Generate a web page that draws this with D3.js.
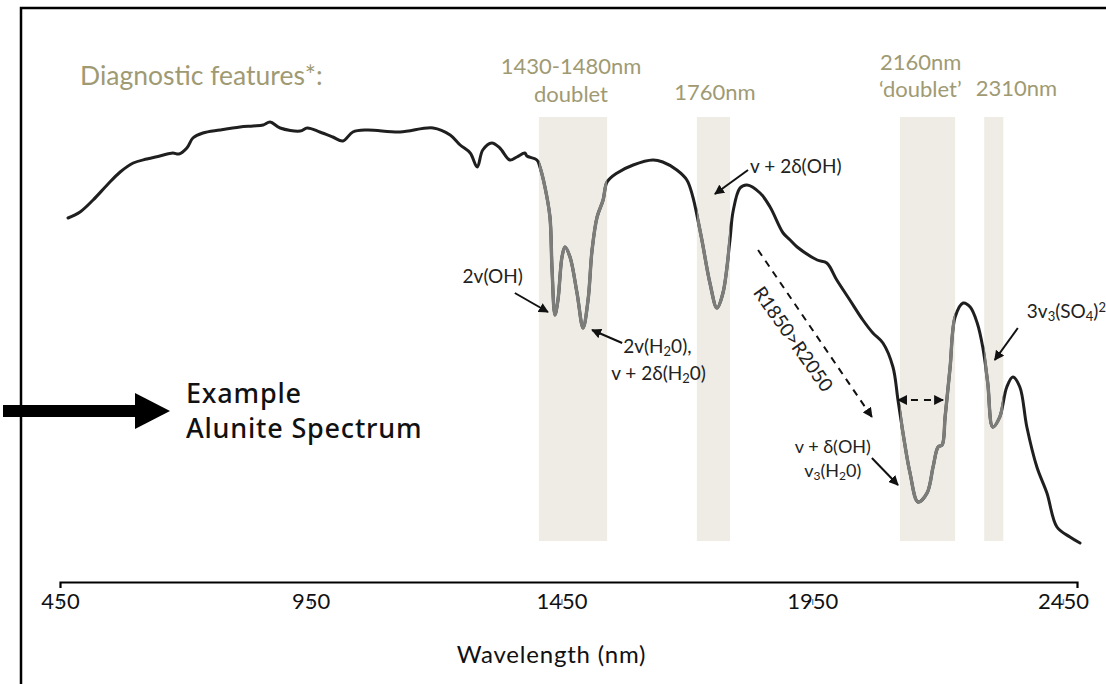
<!DOCTYPE html>
<html>
<head>
<meta charset="utf-8">
<script src="https://cdn.jsdelivr.net/npm/d3@7/dist/d3.min.js"></script>
<style>
  body { margin: 0; background: #fff; }
  svg { display: block; }
  text { font-family: Lato, "Open Sans", sans-serif; }
</style>
</head>
<body>
<div id="visContainer"></div>
<script>
'use strict';

// spectrum (wavelength in nm, relative reflectance)
var wavelength = [466, 490, 516, 544, 570, 596, 623, 649, 675, 687, 703, 715, 735, 769, 809, 835, 855, 869, 889, 929,
  943, 968, 994, 1014, 1034, 1062, 1128, 1194, 1228, 1248, 1268, 1282, 1293, 1311, 1327, 1347, 1361, 1377, 1381, 1401,
  1407, 1417, 1427, 1431, 1437, 1443, 1451, 1457, 1467, 1481, 1493, 1503, 1511, 1521, 1533, 1541, 1561, 1593, 1632, 1652,
  1680, 1700, 1712, 1722, 1730, 1746, 1760, 1772, 1786, 1792, 1806, 1820, 1846, 1866, 1892, 1906, 1920, 1960, 1979, 1999,
  2025, 2051, 2071, 2091, 2111, 2121, 2131, 2145, 2161, 2179, 2191, 2201, 2209, 2215, 2225, 2235, 2251, 2265, 2279, 2290,
  2300, 2310, 2324, 2338, 2350, 2364, 2378, 2398, 2418, 2438, 2464, 2484];
var reflectance = [0.744, 0.756, 0.780, 0.810, 0.836, 0.854, 0.862, 0.868, 0.874, 0.872, 0.884, 0.904, 0.914, 0.920, 0.926, 0.928, 0.930, 0.936, 0.924, 0.918,
  0.924, 0.916, 0.906, 0.898, 0.916, 0.920, 0.916, 0.924, 0.910, 0.890, 0.874, 0.846, 0.880, 0.894, 0.884, 0.860, 0.866, 0.874, 0.868, 0.860,
  0.846, 0.806, 0.746, 0.646, 0.550, 0.580, 0.666, 0.686, 0.666, 0.594, 0.524, 0.580, 0.680, 0.746, 0.780, 0.816, 0.834, 0.850, 0.860, 0.856,
  0.840, 0.820, 0.786, 0.740, 0.700, 0.614, 0.564, 0.594, 0.700, 0.756, 0.804, 0.810, 0.794, 0.766, 0.714, 0.700, 0.686, 0.660, 0.654, 0.620,
  0.580, 0.540, 0.514, 0.494, 0.446, 0.380, 0.314, 0.234, 0.176, 0.194, 0.246, 0.286, 0.290, 0.346, 0.446, 0.546, 0.574, 0.566, 0.534, 0.486,
  0.414, 0.326, 0.346, 0.406, 0.426, 0.406, 0.326, 0.246, 0.194, 0.126, 0.106, 0.094];

// shaded diagnostic bands (nm)
var bandStart = [1405, 1720, 2125, 2293];
var bandEnd = [1541, 1786, 2235, 2331];

var tickValues = [450, 950, 1450, 1950, 2450];

var width = 1106, height = 684;
var svg = d3.select('#visContainer').append('svg')
  .attr('width', width).attr('height', height);

var xScale = d3.scaleLinear().domain([450, 2478]).range([60, 1077]);
var yScale = d3.scaleLinear().domain([0, 1]).range([590, 90]);

var olive = '#a09a73';

// frame
svg.append('rect').attr('x', 21).attr('y', 8).attr('width', 1200).attr('height', 800)
  .attr('fill', 'none').attr('stroke', '#000').attr('stroke-width', 2.5);

// bands
var bands = d3.range(bandStart.length).map(function(i){ return {a: bandStart[i], b: bandEnd[i]}; });
svg.selectAll('rect.band').data(bands).enter().append('rect')
  .attr('class', 'band')
  .attr('x', function(d){ return xScale(d.a); })
  .attr('width', function(d){ return xScale(d.b) - xScale(d.a); })
  .attr('y', yScale(0.946))
  .attr('height', yScale(0.098) - yScale(0.946))
  .attr('fill', '#eeece4');

// clip for the grey part of the line inside the bands
var defs = svg.append('defs');
var clip = defs.append('clipPath').attr('id', 'bandClip');
clip.selectAll('rect').data(bands).enter().append('rect')
  .attr('x', function(d){ return xScale(d.a); })
  .attr('width', function(d){ return xScale(d.b) - xScale(d.a); })
  .attr('y', 0).attr('height', height);

var pts = wavelength.map(function(w, i){ return [w, reflectance[i]]; });
var line = d3.line().x(function(d){ return xScale(d[0]); }).y(function(d){ return yScale(d[1]); })
  .curve(d3.curveCatmullRom.alpha(0.5));

svg.append('path').datum(pts).attr('d', line)
  .attr('fill', 'none').attr('stroke', '#1f1f1f').attr('stroke-width', 3)
  .attr('stroke-linejoin', 'round').attr('stroke-linecap', 'round');
svg.append('path').datum(pts).attr('d', line)
  .attr('clip-path', 'url(#bandClip)')
  .attr('fill', 'none').attr('stroke', '#7c7c7a').attr('stroke-width', 3.4)
  .attr('stroke-linejoin', 'round');

// x axis
var xAxis = d3.axisBottom(xScale).tickValues(tickValues).tickFormat(d3.format('d'))
  .tickSizeOuter(0).tickSize(6).tickPadding(0);
var gx = svg.append('g').attr('transform', 'translate(0,582)').call(xAxis);
gx.select('.domain').attr('stroke', '#000').attr('stroke-width', 2.2);
gx.selectAll('.tick line').attr('y1', 17).attr('y2', 23).attr('stroke', '#5b9bd5').attr('stroke-width', 1.5);
gx.selectAll('.tick text').attr('y', 11).attr('dy', '0.71em')
  .style('font-size', '22px').attr('fill', '#111')
  .style('font-family', 'Lato, sans-serif');

svg.append('text').attr('x', xScale(1430)).attr('y', 663)
  .attr('text-anchor', 'middle').style('font-size', '24px').style('letter-spacing', '0.8px').attr('fill', '#111')
  .text('Wavelength (nm)');

// header labels
svg.append('text').attr('x', 80).attr('y', 85).style('font-size', '26.5px').attr('fill', olive)
  .text('Diagnostic features*:');

var headerText = ['1430-1480nm', 'doublet', '1760nm', '2160nm', '\u2018doublet\u2019', '2310nm'];
var headerNm = [1469, 1469, 1756, 2085, 2083, 2276];
var headerR = [1.032, 0.976, 0.980, 1.040, 0.986, 0.988];
var headerAnchor = ['middle', 'middle', 'middle', 'start', 'start', 'start'];
svg.selectAll('text.hdr').data(headerText).enter().append('text')
  .attr('class', 'hdr')
  .attr('x', function(d, i){ return xScale(headerNm[i]); })
  .attr('y', function(d, i){ return yScale(headerR[i]); })
  .attr('text-anchor', function(d, i){ return headerAnchor[i]; })
  .style('font-size', '22px').attr('fill', olive)
  .text(function(d){ return d; });

// arrow markers
defs.append('marker').attr('id', 'head').attr('viewBox', '0 0 10 10')
  .attr('refX', 9).attr('refY', 5).attr('markerWidth', 5).attr('markerHeight', 5)
  .attr('markerUnits', 'strokeWidth').attr('orient', 'auto-start-reverse')
  .append('path').attr('d', 'M0,0 L10,5 L0,10 z').attr('fill', '#111');

// annotation arrows: [fromNm, fromR, toNm, toR, dashed, both]
var arrows = [
  [1822, 0.840, 1756, 0.792, false, false],
  [1357, 0.594, 1423, 0.556, false, false],
  [1571, 0.494, 1511, 0.520, false, false],
  [1842, 0.680, 2069, 0.346, true, false],
  [2121, 0.380, 2211, 0.380, true, true],
  [2069, 0.264, 2121, 0.210, false, false],
  [2360, 0.524, 2314, 0.460, false, false]
];
svg.selectAll('line.ann').data(arrows).enter().append('line')
  .attr('class', 'ann')
  .attr('x1', function(d){ return xScale(d[0]); })
  .attr('y1', function(d){ return yScale(d[1]); })
  .attr('x2', function(d){ return xScale(d[2]); })
  .attr('y2', function(d){ return yScale(d[3]); })
  .attr('stroke', '#111').attr('stroke-width', 2)
  .attr('stroke-dasharray', function(d){ return d[4] ? '7,6' : null; })
  .attr('marker-end', 'url(#head)')
  .attr('marker-start', function(d){ return d[5] ? 'url(#head)' : null; });

// annotation text
function annot(nm, r, anchor, parts, size) {
  var fs = size || 19;
  var t = svg.append('text').attr('x', xScale(nm)).attr('y', yScale(r))
    .attr('text-anchor', anchor).style('font-size', fs + 'px').attr('fill', '#222');
  parts.forEach(function(p){
    if (p.sub) t.append('tspan').attr('baseline-shift', '-25%').style('font-size', Math.round(fs * 0.68) + 'px').text(p.sub);
    else if (p.sup) t.append('tspan').attr('baseline-shift', '45%').style('font-size', Math.round(fs * 0.68) + 'px').text(p.sup);
    else t.append('tspan').text(p.t);
  });
  return t;
}
annot(1826, 0.834, 'start', [{t: 'v + 2\u03b4(OH)'}]);
annot(1373, 0.614, 'end', [{t: '2v(OH)'}]);
annot(1573, 0.474, 'start', [{t: '2v(H'}, {sub: '2'}, {t: '0),'}]);
annot(1549, 0.420, 'start', [{t: 'v + 2\u03b4(H'}, {sub: '2'}, {t: '0)'}]);
annot(1991, 0.274, 'middle', [{t: 'v + \u03b4(OH)'}], 18);
annot(1991, 0.226, 'middle', [{t: 'v'}, {sub: '3'}, {t: '(H'}, {sub: '2'}, {t: '0)'}], 18);
annot(2378, 0.544, 'start', [{t: '3v'}, {sub: '3'}, {t: '(SO'}, {sub: '4'}, {t: ')'}, {sup: '2'}]);

svg.append('text')
  .attr('transform', 'translate(' + xScale(1912) + ',' + yScale(0.502) + ') rotate(55)')
  .attr('text-anchor', 'middle').attr('dy', '0.35em')
  .style('font-size', '19px').attr('fill', '#222')
  .text('R1850>R2050');

// big arrow + title
svg.append('rect').attr('x', 3).attr('y', 405).attr('width', 134).attr('height', 12).attr('fill', '#000');
svg.append('path').attr('d', 'M135,393 L170,411 L135,429 Z').attr('fill', '#000');
svg.append('text').attr('x', 186).attr('y', 403).style('font-size', '27px').style('font-weight', 500)
  .style('font-family', '"Noto Sans", sans-serif').style('letter-spacing', '0.8px')
  .attr('fill', '#111').text('Example');
svg.append('text').attr('x', 186).attr('y', 438).style('font-size', '27px').style('font-weight', 500)
  .style('font-family', '"Noto Sans", sans-serif').style('letter-spacing', '0.8px')
  .attr('fill', '#111').text('Alunite Spectrum');
</script>
</body>
</html>
